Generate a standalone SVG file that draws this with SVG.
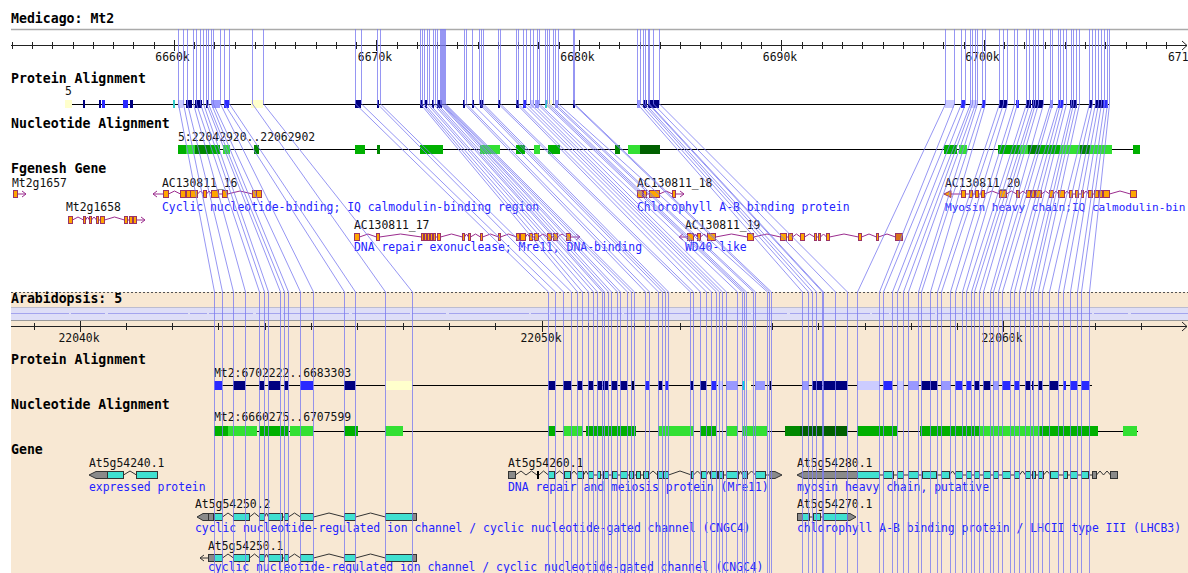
<svg xmlns="http://www.w3.org/2000/svg" width="1188" height="573" viewBox="0 0 1188 573">
<style>
.lbl{font-family:"DejaVu Sans Mono",monospace;font-weight:bold;font-size:13.2px;fill:#000}
.t{font-family:"DejaVu Sans Mono",monospace;font-size:11.4px;fill:#111}
.d{font-family:"DejaVu Sans Mono",monospace;font-size:11.4px;fill:#2323ff}
.ax{stroke:#222;stroke-width:1;fill:none}
.fb rect,.fb polygon{fill:#ffa500;stroke:#993366;stroke-width:1}
.fi{fill:none;stroke:#9b2c8e;stroke-width:1}
.gb rect{fill:#40e0d0;stroke:#333;stroke-width:1}
.gu{fill:#8a8a8a;stroke:#333;stroke-width:1}
.gi{fill:none;stroke:#333;stroke-width:1}
.bk{stroke:#000;stroke-width:1;fill:none}
.cn path{fill:none;stroke:#7c7cf0;stroke-opacity:.8;stroke-width:1}
.p8{fill:none;stroke-width:8}
.p9{fill:none;stroke-width:9}
.p10{fill:none;stroke-width:10}
</style>
<rect width="1188" height="573" fill="#fff"/>
<rect x="11" y="292" width="1177" height="281" fill="#f8e8d3"/>

<g id="medicago-panel">
<text class="lbl" x="11" y="23">Medicago: Mt2</text>
<line x1="11" y1="29.5" x2="1188" y2="29.5" stroke="#aaa" stroke-width="1.5"/>
<path class="ax" d="M11 45.5H1187M1182 41L1187 45.5L1182 50"/>
<path class="ax" d="M12.5 42v7M32.5 42v7M52.5 42v7M73.5 42v7M93.5 42v7M113.5 42v7M133.5 42v7M154.5 42v7M194.5 42v7M214.5 42v7M235.5 42v7M255.5 42v7M275.5 42v7M295.5 42v7M316.5 42v7M336.5 42v7M356.5 42v7M397.5 42v7M417.5 42v7M437.5 42v7M457.5 42v7M478.5 42v7M498.5 42v7M518.5 42v7M538.5 42v7M559.5 42v7M599.5 42v7M619.5 42v7M640.5 42v7M660.5 42v7M680.5 42v7M700.5 42v7M721.5 42v7M741.5 42v7M761.5 42v7M802.5 42v7M822.5 42v7M842.5 42v7M862.5 42v7M883.5 42v7M903.5 42v7M923.5 42v7M943.5 42v7M964.5 42v7M1004.5 42v7M1024.5 42v7M1045.5 42v7M1065.5 42v7M1085.5 42v7M1105.5 42v7M1126.5 42v7M1146.5 42v7M1166.5 42v7M174.5 40v11M376.5 40v11M579.5 40v11M781.5 40v11M984.5 40v11"/>
<g class="t" text-anchor="middle">
<text x="172.5" y="61">6660k</text><text x="375" y="61">6670k</text><text x="577.5" y="61">6680k</text><text x="780" y="61">6690k</text><text x="982.5" y="61">6700k</text>
</g>
<text class="t" x="1168" y="61">671</text>
</g>

<g id="medicago-protein-alignment">
<text class="lbl" x="11" y="83">Protein Alignment</text>
<text class="t" x="65" y="95">5</text>
<line class="bk" x1="65" y1="104.5" x2="1109" y2="104.5"/>
<path class="p8" stroke="#ffffcc" d="M65 104H72M251 104H263M547 104H552"/>
<path class="p8" stroke="#000080" d="M83 104H85M99 104H101M130 104H133M186 104H192M195 104H202M206 104H208M355 104H361M377 104H379M420 104H423M425 104H427M432 104H434M437 104H442M463 104H465M472 104H474M480 104H483M498 104H500M516 104H519M573 104H575M643 104H647M648 104H659M999 104H1007M1026 104H1031M1032 104H1043M1070 104H1077M1089 104H1092M1095 104H1103"/>
<path class="p8" stroke="#2a2aff" d="M102 104H105M123 104H128M224 104H229M523 104H526M961 104H965M982 104H985M1016 104H1019M1058 104H1063M1103 104H1108"/>
<path class="p8" stroke="#9999ff" d="M212 104H220M535 104H539M555 104H558M637 104H640M1050 104H1053"/>
<path class="p8" stroke="#ccccff" d="M178 104H183M530 104H534M945 104H954M970 104H977"/>
<path class="p8" stroke="#33cccc" d="M173 104H175M545 104H547"/>
</g>

<g id="medicago-nucleotide-alignment">
<text class="lbl" x="11" y="128">Nucleotide Alignment</text>
<text class="t" x="178" y="141">5:22042920..22062902</text>
<line class="bk" x1="178" y1="149.5" x2="1140" y2="149.5"/>
<path class="p9" stroke="#00b000" d="M178 149.5H186M210 149.5H220M355 149.5H365M420 149.5H443M516 149.5H525M548 149.5H560M944 149.5H957M998 149.5H1020M1040 149.5H1060M1133 149.5H1140"/>
<path class="p9" stroke="#33e033" d="M186 149.5H195M223 149.5H230M480 149.5H500M534 149.5H540M628 149.5H640M959 149.5H967M1020 149.5H1028M1060 149.5H1080M1090 149.5H1112"/>
<path class="p9" stroke="#008800" d="M195 149.5H210M254 149.5H259M377 149.5H380M615 149.5H620M1028 149.5H1040M1080 149.5H1090"/>
<path class="p9" stroke="#006000" d="M640 149.5H660"/>
</g>

<text class="lbl" x="11" y="173">Fgenesh Gene</text>

<g id="fg-Mt2g1657">
<text class="t" x="12" y="187">Mt2g1657</text>
<path class="fi" d="M17.5 194H26M22 191L26 194L22 197"/>
<g class="fb"><rect x="13.5" y="190.5" width="4" height="7"/></g>
</g>

<g id="fg-Mt2g1658">
<text class="t" x="66" y="211">Mt2g1658</text>
<path class="fi" d="M72.5 220L78 217L83.5 220M85.5 220L87.5 217L89.5 220M91.5 220L94 217L96.5 220M98.5 220H100.5M104.5 220L114.5 217L124.5 220M127.5 220H129.5M132.5 220H133.5M136.5 220H145M141 217L145 220L141 223"/>
<g class="fb"><rect x="68.5" y="216.5" width="4" height="7"/><rect x="83.5" y="216.5" width="2" height="7"/><rect x="89.5" y="216.5" width="2" height="7"/><rect x="96.5" y="216.5" width="2" height="7"/><rect x="100.5" y="216.5" width="4" height="7"/><rect x="124.5" y="216.5" width="3" height="7"/><rect x="129.5" y="216.5" width="3" height="7"/><rect x="133.5" y="216.5" width="3" height="7"/></g>
</g>

<g id="fg-AC130811_16">
<text class="t" x="162" y="187">AC130811_16</text>
<text class="d" x="162" y="211">Cyclic nucleotide-binding; IQ calmodulin-binding region</text>
<path class="fi" d="M153 194H163.5M157 191L153 194L157 197M168.5 194L174.5 191L180.5 194M185.5 194H186.5M197.5 194L200.5 191L203.5 194M206.5 194L209 191L211.5 194M218.5 194H222.5M227.5 194L240 191L252.5 194"/>
<g class="fb"><rect x="163.5" y="190.5" width="5" height="7"/><rect x="180.5" y="190.5" width="5" height="7"/><rect x="186.5" y="190.5" width="4" height="7"/><rect x="190.5" y="190.5" width="7" height="7"/><rect x="203.5" y="190.5" width="3" height="7"/><rect x="211.5" y="190.5" width="7" height="7"/><rect x="222.5" y="190.5" width="5" height="7"/><rect x="252.5" y="190.5" width="4" height="7"/><rect x="256.5" y="190.5" width="5" height="7"/></g>
</g>

<g id="fg-AC130811_17">
<text class="t" x="354" y="229">AC130811_17</text>
<text class="d" x="354" y="251">DNA repair exonuclease; Mre11, DNA-binding</text>
<path class="fi" d="M359.5 237L368 234L376.5 237M379.5 237L400.5 234L421.5 237M423.5 237H437.5M440.5 237L451.5 234L462.5 237M464.5 237L466.5 234L468.5 237M470.5 237L475.5 234L480.5 237M482.5 237L490.5 234L498.5 237M500.5 237L508.5 234L516.5 237M519.5 237H520.5M525.5 237L527.5 234L529.5 237M532.5 237H534.5M538.5 237L543 234L547.5 237M551.5 237H553.5M557.5 237L562 234L566.5 237M570.5 237H580M576 234L580 237L576 240"/>
<g class="fb"><rect x="354.5" y="233.5" width="5" height="7"/><rect x="376.5" y="233.5" width="3" height="7"/><rect x="421.5" y="233.5" width="2" height="7"/><rect x="424.5" y="233.5" width="2" height="7"/><rect x="427.5" y="233.5" width="2" height="7"/><rect x="430.5" y="233.5" width="2" height="7"/><rect x="433.5" y="233.5" width="2" height="7"/><rect x="437.5" y="233.5" width="3" height="7"/><rect x="462.5" y="233.5" width="2" height="7"/><rect x="468.5" y="233.5" width="2" height="7"/><rect x="480.5" y="233.5" width="2" height="7"/><rect x="498.5" y="233.5" width="2" height="7"/><rect x="516.5" y="233.5" width="3" height="7"/><rect x="520.5" y="233.5" width="5" height="7"/><rect x="529.5" y="233.5" width="3" height="7"/><rect x="534.5" y="233.5" width="4" height="7"/><rect x="547.5" y="233.5" width="4" height="7"/><rect x="553.5" y="233.5" width="4" height="7"/><rect x="566.5" y="233.5" width="4" height="7"/></g>
</g>

<g id="fg-AC130811_18">
<text class="t" x="637" y="187">AC130811_18</text>
<text class="d" x="637" y="211">Chlorophyll A-B binding protein</text>
<path class="fi" d="M642.5 194H643.5M646.5 194H649.5M659.5 194L666 191L672.5 194M675.5 194H684M680 191L684 194L680 197"/>
<g class="fb"><rect x="637.5" y="190.5" width="5" height="7"/><rect x="643.5" y="190.5" width="3" height="7"/><rect x="649.5" y="190.5" width="10" height="7"/><rect x="672.5" y="190.5" width="3" height="7"/></g>
</g>

<g id="fg-AC130811_19">
<text class="t" x="685" y="229">AC130811_19</text>
<text class="d" x="685" y="251">WD40-like</text>
<path class="fi" d="M679 237H687.5M683 234L679 237L683 240M693.5 237L695.5 234L697.5 237M700.5 237L704 234L707.5 237M715.5 237L731.5 234L747.5 237M753.5 237L767 234L780.5 237M786.5 237H788.5M792.5 237L796.5 234L800.5 237M804.5 237L809.5 234L814.5 237M816.5 237H818.5M820.5 237L823.5 234L826.5 237M829.5 237L844 234L858.5 237M861.5 237L869 234L876.5 237M878.5 237L887 234L895.5 237"/>
<g class="fb"><rect x="687.5" y="233.5" width="6" height="7"/><rect x="697.5" y="233.5" width="3" height="7"/><rect x="707.5" y="233.5" width="8" height="7"/><rect x="747.5" y="233.5" width="6" height="7"/><rect x="780.5" y="233.5" width="6" height="7"/><rect x="788.5" y="233.5" width="4" height="7"/><rect x="800.5" y="233.5" width="4" height="7"/><rect x="814.5" y="233.5" width="2" height="7"/><rect x="818.5" y="233.5" width="2" height="7"/><rect x="826.5" y="233.5" width="3" height="7"/><rect x="858.5" y="233.5" width="3" height="7"/><rect x="876.5" y="233.5" width="2" height="7"/><rect x="895.5" y="233.5" width="7" height="7" style="fill:#d9731a"/></g>
</g>

<g id="fg-AC130811_20">
<text class="t" x="945" y="187">AC130811_20</text>
<text class="d" x="945" y="211" style="font-size:11.1px">Myosin heavy chain;IQ calmodulin-bin</text>
<path class="fi" d="M951 194H961.5M965.5 194H969.5M972.5 194H975.5M978.5 194H981.5M984.5 194L992 191L999.5 194M1006.5 194L1011.5 191L1016.5 194M1019.5 194L1023 191L1026.5 194M1030.5 194H1031.5M1034.5 194H1035.5M1041.5 194L1045.5 191L1049.5 194M1053.5 194L1056 191L1058.5 194M1064.5 194L1067 191L1069.5 194M1072.5 194H1075.5M1078.5 194H1081.5M1083.5 194L1086 191L1088.5 194M1092.5 194H1094.5M1098.5 194H1099.5M1102.5 194H1103.5M1109.5 194L1120 191L1130.5 194"/>
<g class="fb"><polygon points="944,194 951,190.5 951,197.5"/><rect x="961.5" y="190.5" width="4" height="7"/><rect x="969.5" y="190.5" width="3" height="7"/><rect x="975.5" y="190.5" width="3" height="7"/><rect x="981.5" y="190.5" width="3" height="7"/><rect x="999.5" y="190.5" width="7" height="7"/><rect x="1016.5" y="190.5" width="3" height="7"/><rect x="1026.5" y="190.5" width="4" height="7"/><rect x="1031.5" y="190.5" width="3" height="7"/><rect x="1035.5" y="190.5" width="6" height="7"/><rect x="1049.5" y="190.5" width="4" height="7"/><rect x="1058.5" y="190.5" width="6" height="7"/><rect x="1069.5" y="190.5" width="3" height="7"/><rect x="1075.5" y="190.5" width="3" height="7"/><rect x="1081.5" y="190.5" width="2" height="7"/><rect x="1088.5" y="190.5" width="4" height="7"/><rect x="1094.5" y="190.5" width="4" height="7"/><rect x="1099.5" y="190.5" width="3" height="7"/><rect x="1103.5" y="190.5" width="6" height="7"/><rect x="1130.5" y="190.5" width="6" height="7"/></g>
</g>

<g id="arabidopsis-panel">
<line x1="11" y1="292.5" x2="1188" y2="292.5" stroke="#555" stroke-dasharray="2 2"/>
<text class="lbl" x="11" y="303">Arabidopsis: 5</text>
<rect x="11" y="307" width="1177" height="13" fill="#dedef7"/>
<line x1="11" y1="307.5" x2="1188" y2="307.5" stroke="#bcbcd0"/>
<line x1="11" y1="320.5" x2="1188" y2="320.5" stroke="#9a9a9a"/>
<line x1="11" y1="313.5" x2="1188" y2="313.5" stroke="#a4a4ee" stroke-dasharray="58 2 34 3 80 2 17 2 44 3 25 2 66 3"/>
<path class="ax" d="M11 326.5H1187M1182 322L1187 326.5L1182 331"/>
<path class="ax" d="M34.5 323v7M126.5 323v7M172.5 323v7M218.5 323v7M265.5 323v7M311.5 323v7M357.5 323v7M403.5 323v7M449.5 323v7M495.5 323v7M588.5 323v7M634.5 323v7M680.5 323v7M726.5 323v7M772.5 323v7M818.5 323v7M865.5 323v7M911.5 323v7M957.5 323v7M1049.5 323v7M1095.5 323v7M1141.5 323v7M80.5 321v11M542.5 321v11M1003.5 321v11"/>
<g class="t" text-anchor="middle">
<text x="79" y="342">22040k</text><text x="541" y="342">22050k</text><text x="1002" y="342">22060k</text>
</g>
</g>

<g id="arabidopsis-protein-alignment">
<text class="lbl" x="11" y="364">Protein Alignment</text>
<text class="t" x="214" y="377">Mt2:6702222..6683303</text>
<line class="bk" x1="214" y1="385.5" x2="1092" y2="385.5"/>
<path class="p9" stroke="#000080" d="M233 385.5H245M259 385.5H264M268 385.5H280M284 385.5H288M344 385.5H355M548 385.5H555M563 385.5H571M577 385.5H582M588 385.5H593M597 385.5H602M603 385.5H608M611 385.5H617M620 385.5H627M658 385.5H662M690 385.5H693M700 385.5H706M812 385.5H822M823 385.5H847M921 385.5H937M974 385.5H979M983 385.5H990M1025 385.5H1030M1032 385.5H1034M1038 385.5H1042M1049 385.5H1058"/>
<path class="p9" stroke="#000040" d="M631 385.5H634M769 385.5H771"/>
<path class="p9" stroke="#2a2aff" d="M214 385.5H222M300 385.5H313M645 385.5H649M665 385.5H668M711 385.5H716M883 385.5H892M955 385.5H962M966 385.5H971M1002 385.5H1010M1014 385.5H1019M1063 385.5H1066M1070 385.5H1077M1081 385.5H1089"/>
<path class="p9" stroke="#9999ff" d="M726 385.5H737M755 385.5H765M802 385.5H808M908 385.5H918M941 385.5H950M993 385.5H998"/>
<path class="p9" stroke="#ccccff" d="M718 385.5H723M857 385.5H879M897 385.5H903"/>
<path class="p9" stroke="#ffffcc" d="M385 385.5H412M745 385.5H751"/>
<path class="p9" stroke="#00e0e0" d="M742 385.5H745"/>
</g>

<g id="arabidopsis-nucleotide-alignment">
<text class="lbl" x="11" y="409">Nucleotide Alignment</text>
<text class="t" x="214" y="421">Mt2:6660275..6707599</text>
<line class="bk" x1="214" y1="431.5" x2="1138" y2="431.5" stroke="#555"/>
<path class="p10" stroke="#00b000" d="M214 431H228M259 431H289M344 431H358M548 431H555M586 431H636M700 431H716M857 431H897M920 431H980M1040 431H1098"/>
<path class="p10" stroke="#33e033" d="M228 431H257M290 431H313M385 431H403M563 431H583M658 431H694M726 431H738M742 431H767M980 431H1040M1123 431H1137"/>
<path class="p10" stroke="#008800" d="M785 431H800"/>
<path class="p10" stroke="#006000" d="M800 431H847"/>
</g>

<text class="lbl" x="11" y="454">Gene</text>

<g id="gene-At5g54240.1">
<text class="t" x="89" y="467">At5g54240.1</text>
<text class="d" x="89" y="491">expressed protein</text>
<path class="gi" d="M123.5 475L130 471L136.5 475"/>
<polygon class="gu" points="89,475 96,471.5 107.5,471.5 107.5,478.5 96,478.5"/>
<g class="gb"><rect x="107.5" y="471.5" width="16" height="7"/><rect x="136.5" y="471.5" width="21" height="7"/></g>
</g>

<g id="gene-At5g54250.2">
<text class="t" x="195" y="508">At5g54250.2</text>
<text class="d" x="195" y="532">cyclic nucleotide-regulated ion channel / cyclic nucleotide-gated channel (CNGC4)</text>
<path class="gi" d="M213.5 517H214.5M222.5 517L228 513L233.5 517M249.5 517L254.5 513L259.5 517M264.5 517L266.5 513L268.5 517M282.5 517H284.5M288.5 517L294.5 513L300.5 517M313.5 517L329 513L344.5 517M355.5 517L370.5 513L385.5 517"/>
<polygon class="gu" points="197,517 203,513.5 208.5,513.5 208.5,520.5 203,520.5"/>
<rect class="gu" x="208.5" y="513.5" width="5" height="7"/>
<rect class="gu" x="412.5" y="513.5" width="4" height="7"/>
<g class="gb"><rect x="214.5" y="513.5" width="8" height="7"/><rect x="233.5" y="513.5" width="16" height="7"/><rect x="259.5" y="513.5" width="5" height="7"/><rect x="268.5" y="513.5" width="14" height="7"/><rect x="284.5" y="513.5" width="4" height="7"/><rect x="300.5" y="513.5" width="13" height="7"/><rect x="344.5" y="513.5" width="11" height="7"/><rect x="385.5" y="513.5" width="27" height="7"/></g>
</g>

<g id="gene-At5g54250.1">
<text class="t" x="208" y="550">At5g54250.1</text>
<text class="d" x="208" y="571">cyclic nucleotide-regulated ion channel / cyclic nucleotide-gated channel (CNGC4)</text>
<path class="gi" d="M200 558H208.5M204 555L200 558L204 561M222.5 558L228 554L233.5 558M249.5 558L254.5 554L259.5 558M264.5 558L266.5 554L268.5 558M282.5 558H284.5M288.5 558L294.5 554L300.5 558M313.5 558L329 554L344.5 558M355.5 558L370.5 554L385.5 558"/>
<rect class="gu" x="208.5" y="554.5" width="6" height="7"/>
<rect class="gu" x="412.5" y="554.5" width="4" height="7"/>
<g class="gb"><rect x="214.5" y="554.5" width="8" height="7"/><rect x="233.5" y="554.5" width="16" height="7"/><rect x="259.5" y="554.5" width="5" height="7"/><rect x="268.5" y="554.5" width="14" height="7"/><rect x="284.5" y="554.5" width="4" height="7"/><rect x="300.5" y="554.5" width="13" height="7"/><rect x="344.5" y="554.5" width="11" height="7"/><rect x="385.5" y="554.5" width="27" height="7"/></g>
</g>

<g id="gene-At5g54260.1">
<text class="t" x="508" y="467">At5g54260.1</text>
<text class="d" x="508" y="491">DNA repair and meiosis protein (Mre11)</text>
<path class="gi" d="M515.5 475L521 471L526 475L531.5 471L537 475M539 475L543.5 471L548.5 475M554.5 475L559.5 471L564.5 475M570.5 475L574 471L577.5 475M583.5 475L586 471L588.5 475M593.5 475H597.5M600.5 475H603.5M608.5 475H612.5M617.5 475H620.5M627.5 475H629.5M633.5 475H636.5M640.5 475H643.5M648.5 475L653 471L657.5 475M668.5 475L680 471L691.5 475M693.5 475L697.5 471L701.5 475M706.5 475L708.5 471L710.5 475M723.5 475H726.5M738.5 475L740.5 471L742.5 475M747.5 475L751.5 471L755.5 475M765.5 475H769.5"/>
<rect class="gu" x="508.5" y="471.5" width="7" height="7"/>
<rect x="537" y="471" width="2" height="8" fill="#000"/>
<g class="gb"><rect x="548.5" y="471.5" width="6" height="7"/><rect x="564.5" y="471.5" width="6" height="7"/><rect x="577.5" y="471.5" width="6" height="7"/><rect x="588.5" y="471.5" width="5" height="7"/><rect x="597.5" y="471.5" width="3" height="7"/><rect x="603.5" y="471.5" width="5" height="7"/><rect x="612.5" y="471.5" width="5" height="7"/><rect x="620.5" y="471.5" width="7" height="7"/><rect x="629.5" y="471.5" width="4" height="7"/><rect x="636.5" y="471.5" width="4" height="7"/><rect x="643.5" y="471.5" width="5" height="7"/><rect x="657.5" y="471.5" width="6" height="7"/><rect x="663.5" y="471.5" width="5" height="7"/><rect x="691.5" y="471.5" width="2" height="7"/><rect x="701.5" y="471.5" width="5" height="7"/><rect x="710.5" y="471.5" width="7" height="7"/><rect x="718.5" y="471.5" width="5" height="7"/><rect x="726.5" y="471.5" width="12" height="7"/><rect x="742.5" y="471.5" width="5" height="7"/><rect x="755.5" y="471.5" width="10" height="7"/></g>
<polygon class="gu" points="769.5,471.5 775,471.5 782,475 775,478.5 769.5,478.5"/>
</g>

<g id="gene-At5g54280.1">
<text class="t" x="797" y="467">At5g54280.1</text>
<text class="d" x="797" y="491">myosin heavy chain, putative</text>
<path class="gi" d="M879.5 475H883.5M893.5 475H897.5M903.5 475H908.5M918.5 475H922.5M936.5 475H941.5M949.5 475L952.5 471L955.5 475M962.5 475H966.5M971.5 475H974.5M979.5 475H983.5M990.5 475H993.5M998.5 475H1002.5M1010.5 475H1014.5M1019.5 475L1022.5 471L1025.5 475M1030.5 475H1032.5M1035.5 475H1038.5M1043.5 475L1047 471L1050.5 475M1058.5 475H1063.5M1067.5 475H1070.5M1077.5 475H1081.5M1088.5 475H1092.5M1096.5 475L1100 471L1103.5 475L1107 471L1110.5 475"/>
<polygon class="gu" points="797,475 804,471.5 857.5,471.5 857.5,478.5 804,478.5"/>
<g class="gb"><rect x="857.5" y="471.5" width="22" height="7"/><rect x="883.5" y="471.5" width="10" height="7"/><rect x="897.5" y="471.5" width="6" height="7"/><rect x="908.5" y="471.5" width="10" height="7"/><rect x="922.5" y="471.5" width="14" height="7"/><rect x="941.5" y="471.5" width="8" height="7"/><rect x="955.5" y="471.5" width="7" height="7"/><rect x="966.5" y="471.5" width="5" height="7"/><rect x="974.5" y="471.5" width="5" height="7"/><rect x="983.5" y="471.5" width="7" height="7"/><rect x="993.5" y="471.5" width="5" height="7"/><rect x="1002.5" y="471.5" width="8" height="7"/><rect x="1014.5" y="471.5" width="5" height="7"/><rect x="1025.5" y="471.5" width="5" height="7"/><rect x="1032.5" y="471.5" width="3" height="7"/><rect x="1038.5" y="471.5" width="5" height="7"/><rect x="1050.5" y="471.5" width="8" height="7"/><rect x="1063.5" y="471.5" width="4" height="7"/><rect x="1070.5" y="471.5" width="7" height="7"/><rect x="1081.5" y="471.5" width="7" height="7"/></g>
<rect class="gu" x="1092.5" y="471.5" width="4" height="7"/>
<rect class="gu" x="1110.5" y="471.5" width="7" height="7"/>
</g>

<g id="gene-At5g54270.1">
<text class="t" x="797" y="508">At5g54270.1</text>
<text class="d" x="797" y="532">chlorophyll A-B binding protein / LHCII type III (LHCB3)</text>
<path class="gi" d="M809.5 517H813.5M820.5 517H823.5"/>
<rect class="gu" x="797.5" y="513.5" width="5" height="7"/>
<g class="gb"><rect x="802.5" y="513.5" width="7" height="7"/><rect x="813.5" y="513.5" width="7" height="7"/><rect x="823.5" y="513.5" width="24" height="7"/></g>
<polygon class="gu" points="847.5,513.5 850,513.5 856,517 850,520.5 847.5,520.5"/>
</g>

<g id="connectors" class="cn">
<path d="M178.5 29V104L214.5 292V573"/><path d="M183.5 29V104L222.5 292V573"/><path d="M187.5 29V104L233.5 292V573"/><path d="M193.5 29V104L245.5 292V573"/><path d="M196.5 29V104L259.5 292V573"/><path d="M200.5 29V104L264.5 292V573"/><path d="M203.5 29V104L268.5 292V573"/><path d="M206.5 29V104L280.5 292V573"/><path d="M208.5 29V104L284.5 292V573"/><path d="M211.5 29V104L288.5 292V573"/><path d="M213.5 29V104L300.5 292V573"/><path d="M220.5 29V104L313.5 292V573"/><path d="M224.5 29V104L344.5 292V573"/><path d="M229.5 29V104L355.5 292V573"/><path d="M252.5 29V104L385.5 292V573"/><path d="M263.5 29V104L412.5 292V573"/>
<path d="M355.5 29V104L548.5 292V573"/><path d="M361.5 29V104L555.5 292V573"/><path d="M377.5 29V104L563.5 292V573"/><path d="M380.5 29V104L571.5 292V573"/><path d="M420.5 29V104L577.5 292V573"/><path d="M422.5 29V104L582.5 292V573"/><path d="M424.5 29V104L588.5 292V573"/><path d="M427.5 29V104L593.5 292V573"/><path d="M429.5 29V104L597.5 292V573"/><path d="M433.5 29V104L602.5 292V573"/><path d="M435.5 29V104L604.5 292V573"/><path d="M437.5 29V104L608.5 292V573"/><path d="M440.5 29V104L611.5 292V573"/><path d="M441.5 29V104L617.5 292V573"/><path d="M442.5 29V104L620.5 292V573"/><path d="M443.5 29V104L627.5 292V573"/><path d="M444.5 29V104L631.5 292V573"/><path d="M445.5 29V104L634.5 292V573"/><path d="M464.5 29V104L645.5 292V573"/><path d="M466.5 29V104L649.5 292V573"/><path d="M472.5 29V104L658.5 292V573"/><path d="M479.5 29V104L662.5 292V573"/><path d="M481.5 29V104L665.5 292V573"/><path d="M483.5 29V104L668.5 292V573"/><path d="M498.5 29V104L690.5 292V573"/><path d="M500.5 29V104L693.5 292V573"/><path d="M516.5 29V104L700.5 292V573"/><path d="M518.5 29V104L706.5 292V573"/><path d="M523.5 29V104L711.5 292V573"/><path d="M526.5 29V104L716.5 292V573"/><path d="M530.5 29V104L719.5 292V573"/><path d="M533.5 29V104L722.5 292V573"/><path d="M537.5 29V104L726.5 292V573"/><path d="M539.5 29V104L737.5 292V573"/><path d="M545.5 29V104L742.5 292V573"/><path d="M547.5 29V104L744.5 292V573"/><path d="M549.5 29V104L746.5 292V573"/><path d="M553.5 29V104L753.5 292V573"/><path d="M555.5 29V104L755.5 292V573"/><path d="M558.5 29V104L767.5 292V573"/><path d="M573.5 29V104L769.5 292V573"/><path d="M574.5 29V104L771.5 292V573"/>
<path d="M637.5 29V104L802.5 292V573"/><path d="M640.5 29V104L808.5 292V573"/><path d="M643.5 29V104L812.5 292V573"/><path d="M645.5 29V104L816.5 292V573"/><path d="M648.5 29V104L822.5 292V573"/><path d="M649.5 29V104L823.5 292V573"/><path d="M653.5 29V104L835.5 292V573"/><path d="M659.5 29V104L847.5 292V573"/>
<path d="M945.5 29V104L857.5 292V573"/><path d="M954.5 29V104L879.5 292V573"/><path d="M961.5 29V104L883.5 292V573"/><path d="M965.5 29V104L892.5 292V573"/><path d="M970.5 29V104L897.5 292V573"/><path d="M972.5 29V104L903.5 292V573"/><path d="M975.5 29V104L908.5 292V573"/><path d="M977.5 29V104L918.5 292V573"/><path d="M982.5 29V104L921.5 292V573"/><path d="M985.5 29V104L930.5 292V573"/><path d="M999.5 29V104L937.5 292V573"/><path d="M1003.5 29V104L941.5 292V573"/><path d="M1007.5 29V104L950.5 292V573"/><path d="M1014.5 29V104L955.5 292V573"/><path d="M1017.5 29V104L962.5 292V573"/><path d="M1026.5 29V104L966.5 292V573"/><path d="M1029.5 29V104L971.5 292V573"/><path d="M1033.5 29V104L974.5 292V573"/><path d="M1035.5 29V104L979.5 292V573"/><path d="M1038.5 29V104L983.5 292V573"/><path d="M1043.5 29V104L990.5 292V573"/><path d="M1050.5 29V104L993.5 292V573"/><path d="M1052.5 29V104L998.5 292V573"/><path d="M1058.5 29V104L1002.5 292V573"/><path d="M1060.5 29V104L1010.5 292V573"/><path d="M1063.5 29V104L1014.5 292V573"/><path d="M1066.5 29V104L1019.5 292V573"/><path d="M1071.5 29V104L1025.5 292V573"/><path d="M1073.5 29V104L1030.5 292V573"/><path d="M1076.5 29V104L1033.5 292V573"/><path d="M1079.5 29V104L1038.5 292V573"/><path d="M1089.5 29V104L1042.5 292V573"/><path d="M1092.5 29V104L1049.5 292V573"/><path d="M1095.5 29V104L1058.5 292V573"/><path d="M1098.5 29V104L1063.5 292V573"/><path d="M1101.5 29V104L1070.5 292V573"/><path d="M1104.5 29V104L1077.5 292V573"/><path d="M1107.5 29V104L1081.5 292V573"/><path d="M1109.5 29V104L1089.5 292V573"/>
</g>
</svg>
